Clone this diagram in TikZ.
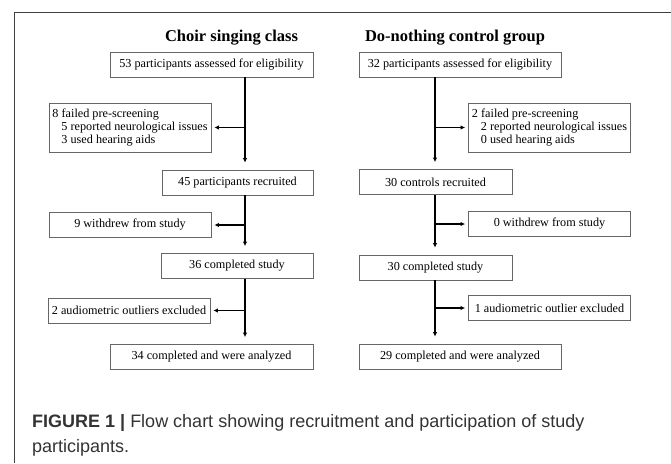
\documentclass[tikz,border=0pt]{standalone}
\usepackage{fontspec}
\setmainfont{Liberation Serif}
\setsansfont{Liberation Sans}
\usetikzlibrary{arrows.meta}
\tikzset{
  stage/.style={draw=black!60, line width=0.8pt, minimum height=25pt, inner sep=0pt,
    font=\fontsize{12.2}{12.6}\selectfont},
  exclbox/.style={stage, minimum width=162pt},
  listbox/.style={exclbox, minimum height=49pt, align=left},
  heading/.style={font=\fontsize{16.5}{18}\selectfont\bfseries},
  flow/.style={->, line width=1.2pt, shorten >=7pt},
  side/.style={->, line width=1.2pt, shorten >=3pt},
  frame/.style={black!75, line width=0.9pt},
  captext/.style={anchor=base west, inner sep=0pt, text=black!80, font=\sffamily\fontsize{18}{22}\selectfont}
}
\newcommand{\reasonindent}{\hspace*{9pt}}
\begin{document}
\begin{tikzpicture}[x=1pt, y=-1pt, >={Latex[length=4.5pt,width=4.5pt]}]
 \useasboundingbox (0,0) rectangle (671,463);
 \draw[frame] (671,12) -- (14,12) -- (14,463);
%
 \coordinate (spineL) at (245,0);
 \coordinate (spineR) at (435,0);
%
 \node[heading] (titleL) at (231.5,38) {Choir singing class};
 \node[heading] (titleR) at (455,38) {Do-nothing control group};
%
 \node[stage, minimum width=203pt] (A1) at (211.5,64.5) {53 participants assessed for eligibility};
 \node[listbox] (S1) at (130,127.5)
   {8 failed pre-screening\\ \reasonindent 5 reported neurological issues\\ \reasonindent 3 used hearing aids};
 \node[stage, minimum width=151pt] (A2) at (237.5,182.5) {45 participants recruited};
 \node[exclbox] (S2) at (130,225) {9 withdrew from study};
 \node[stage, minimum width=152pt] (A3) at (237,266) {36 completed study};
 \node[exclbox] (S3) at (129,310.5) {2 audiometric outliers excluded};
 \node[stage, minimum width=203pt] (A4) at (211.5,357) {34 completed and were analyzed};
%
 \node[stage, minimum width=202pt] (B1) at (460,64.5) {32 participants assessed for eligibility};
 \node[listbox] (T1) at (549.5,127.5)
   {2 failed pre-screening\\ \reasonindent 2 reported neurological issues\\ \reasonindent 0 used hearing aids};
 \node[stage, minimum width=153pt] (B2) at (435.5,182) {30 controls recruited};
 \node[exclbox] (T2) at (549.5,224) {0 withdrew from study};
 \node[stage, minimum width=153pt] (B3) at (435.5,267.5) {30 completed study};
 \node[exclbox] (T3) at (549.5,308) {1 audiometric outlier excluded};
 \node[stage, minimum width=202pt] (B4) at (460,356.5) {29 completed and were analyzed};
%
 \draw[flow] (A1.south -| spineL) -- (A2.north -| spineL);
 \draw[flow] (A2.south -| spineL) -- (A3.north -| spineL);
 \draw[flow] (A3.south -| spineL) -- (A4.north -| spineL);
 \draw[side] (S1.east -| spineL) -- (S1.east);
 \draw[side] (S2.east -| spineL) -- (S2.east);
 \draw[side] (S3.east -| spineL) -- (S3.east);
%
 \draw[flow] (B1.south -| spineR) -- (B2.north -| spineR);
 \draw[flow] (B2.south -| spineR) -- (B3.north -| spineR);
 \draw[flow] (B3.south -| spineR) -- (B4.north -| spineR);
 \draw[side] (T1.west -| spineR) -- (T1.west);
 \draw[side] (T2.west -| spineR) -- (T2.west);
 \draw[side] (T3.west -| spineR) -- (T3.west);
%
 \node[captext] (capA) at (32,427)
   {\textbf{FIGURE 1 |} Flow chart showing recruitment and participation of study};
 \node[captext] (capB) at (32,452) {participants.};
\end{tikzpicture}
\end{document}
